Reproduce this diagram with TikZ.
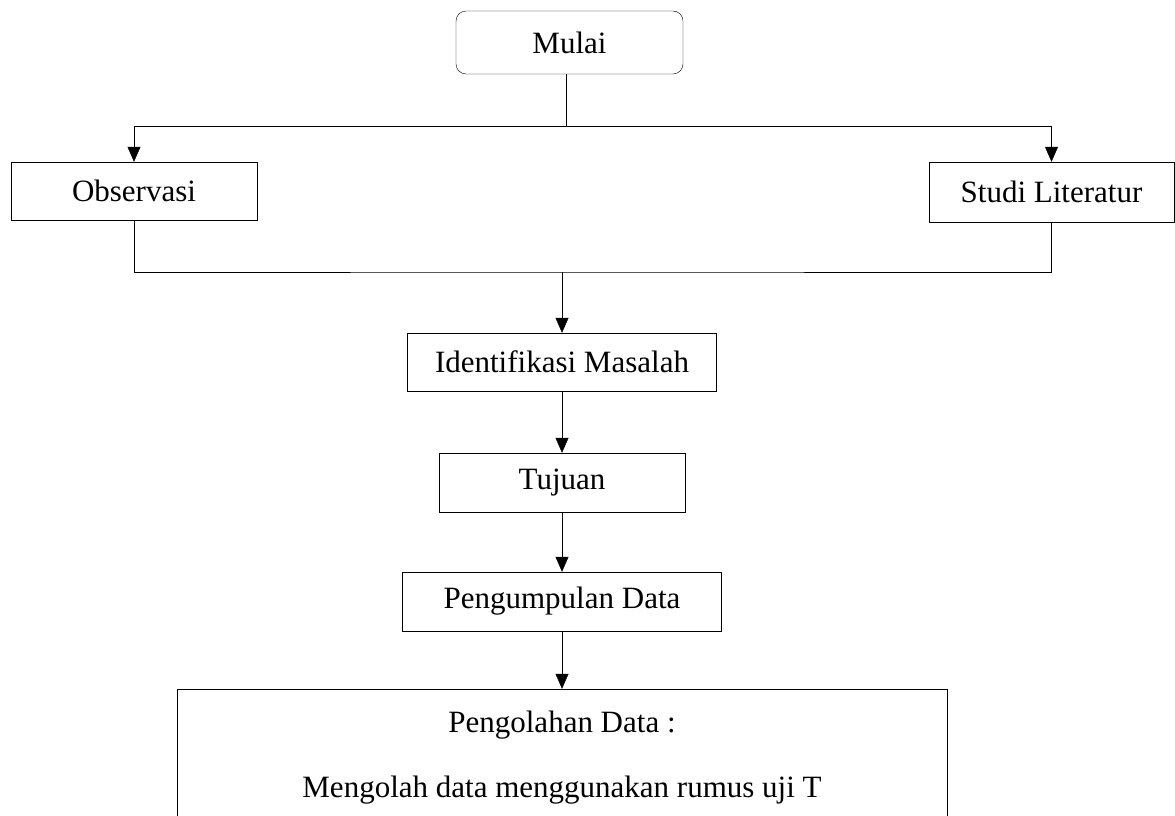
\documentclass[tikz,border=0pt]{standalone}
\usepackage{fontspec}
\setmainfont{Liberation Serif}
\usetikzlibrary{arrows.meta, positioning}
\tikzset{
  x=1pt, y=1pt, % one unit is one pixel of the page
  line width=2pt,
  >={Triangle[length=15pt, width=13pt]}, % filled arrow heads
  every node/.style={font=\fontsize{31}{37}\selectfont},
  box/.style={draw, rectangle, inner sep=0pt}, % plain process box
  startbox/.style={draw, rectangle, rounded corners=10pt, inner sep=0pt},
}
\begin{document}
\begin{tikzpicture}
    \useasboundingbox (0,0) rectangle (1175,-816);

    \node[startbox, minimum width=227pt, minimum height=63pt] (mulai) at (569.5,-42.5) {Mulai};
    \node[box, minimum width=246pt, minimum height=58pt] (obs) at (134,-191) {Observasi};
    \node[box, minimum width=245pt, minimum height=60pt] (studi) at (1051.5,-192) {Studi Literatur};
    \node[box, minimum width=309pt, minimum height=58pt] (ident) at (562,-362) {Identifikasi Masalah};
    \node[box, minimum width=246pt, minimum height=59pt] (tujuan) at (562,-482.5) {Tujuan};
    \node[box, minimum width=319pt, minimum height=59pt] (kumpul) at (562,-601.5) {Pengumpulan Data};
    \node[rectangle, inner sep=0pt, minimum width=769pt, minimum height=127pt] (olah) at (562,-752.5) {};
    \node[align=center] (olahtext) at ([yshift=-5pt]olah.center)
      {Pengolahan Data :\\[28pt]Mengolah data menggunakan rumus uji T};
    % the last box runs off the bottom of the page
    \draw (olah.south west) -- (olah.north west) -- (olah.north east) -- (olah.south east);

    \coordinate (split) at (566,-126);
    \coordinate (merge) at (562,-272);

    \draw (mulai.south -| split) -- (split);
    \draw[->] (split) -| (obs.north);
    \draw[->] (split) -| (studi.north);

    \draw (obs.south) |- (merge) -| (studi.south);
    \draw[->] (merge) -- (ident.north);

    \draw[->] (ident) -- (tujuan);
    \draw[->] (tujuan) -- (kumpul);
    \draw[->] (kumpul) -- (olah.north);
  \end{tikzpicture}
\end{document}
